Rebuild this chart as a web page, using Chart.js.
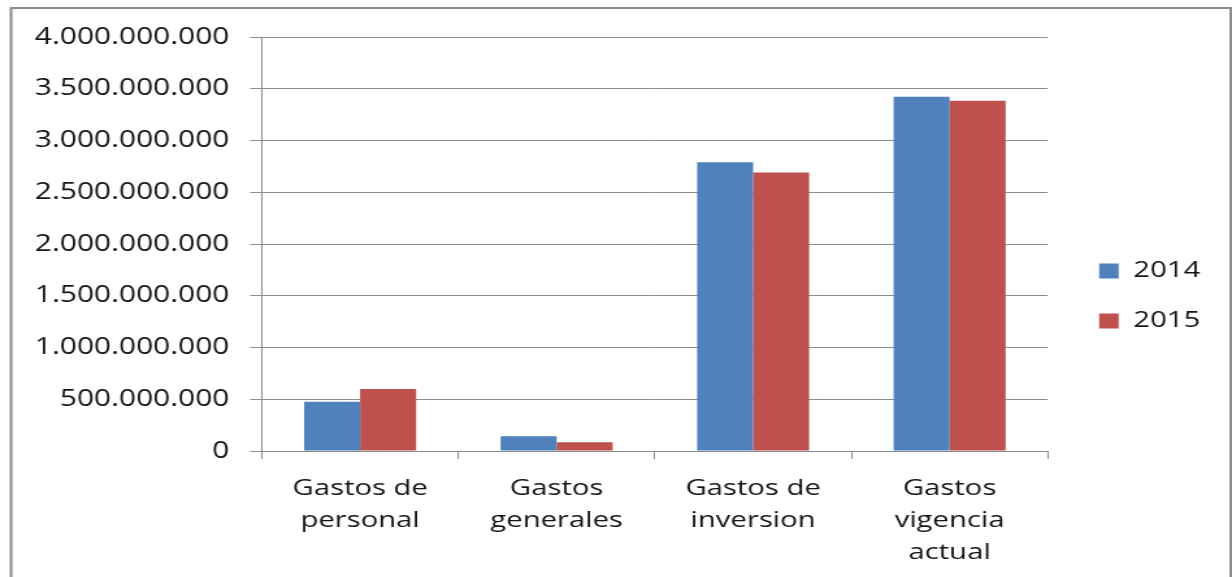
<!DOCTYPE html>
<html>
<head>
<meta charset="utf-8">
<script src="https://cdn.jsdelivr.net/npm/chart.js@4.4.0/dist/chart.umd.min.js"></script>
<style>
  html, body { margin: 0; padding: 0; background: #fff; overflow: hidden; }
  #caja { width: 948px; height: 577px; transform: scaleX(1.2996); transform-origin: 0 0; }
</style>
</head>
<body>
<div id="caja"><canvas id="grafica" width="948" height="577" style="width:948px;height:577px"></canvas></div>
<script>
const categorias = [
  ['Gastos de', 'personal'],
  ['Gastos', 'generales'],
  ['Gastos de', 'inversion'],
  ['Gastos', 'vigencia', 'actual']
];
const valores2014 = [475000000, 142000000, 2790000000, 3422000000];
const valores2015 = [600000000, 84000000, 2692000000, 3385000000];

// puntos como separador de miles (4.000.000.000)
function miles(v) {
  return String(Math.round(v)).replace(/\B(?=(\d{3})+(?!\d))/g, '.');
}

// marco gris alrededor de todo
const marco = {
  id: 'marco',
  beforeDraw(chart) {
    const ctx = chart.ctx;
    ctx.save();
    ctx.fillStyle = '#ffffff';
    ctx.fillRect(0, 0, chart.width, chart.height);
    ctx.strokeStyle = '#8c8c8c';
    ctx.lineWidth = 2;
    ctx.strokeRect(8.5, 8, 938.5, 700);
    ctx.restore();
  }
};

// correr la leyenda un poco a la derecha y arriba
const moverLeyenda = {
  id: 'moverLeyenda',
  afterLayout(chart) {
    const l = chart.legend;
    if (!l) return;
    l.left += 12; l.right += 12;
    l.top -= 6; l.bottom -= 6;
  }
};

const fuente = "'Open Sans', sans-serif";

new Chart(document.getElementById('grafica'), {
  type: 'bar',
  data: {
    labels: categorias,
    datasets: [{
      label: '2014',
      data: valores2014,
      backgroundColor: '#4f81bd',
      borderWidth: 0
    }, {
      label: '2015',
      data: valores2015,
      backgroundColor: '#c0504d',
      borderWidth: 0
    }]
  },
  options: {
    responsive: false,
    animation: false,
    devicePixelRatio: 1,
    barPercentage: 1,
    categoryPercentage: 0.57,
    layout: { padding: { left: 26.5, right: 26.5, top: 37, bottom: 10 } },
    plugins: {
      tooltip: { enabled: false },
      legend: {
        position: 'right',
        labels: {
          boxWidth: 15,
          boxHeight: 15,
          padding: 27.5,
          color: '#141414',
          font: { family: fuente, size: 22.5 }
        }
      }
    },
    scales: {
      x: {
        afterFit: (s) => { s.height = 116; },
        grid: { drawOnChartArea: false, drawTicks: true, tickLength: 8, color: '#8c8c8c' },
        border: { display: true, color: '#8c8c8c', width: 1 },
        ticks: {
          color: '#141414',
          padding: 14,
          maxRotation: 0,
          autoSkip: false,
          font: { family: fuente, size: 22.5, lineHeight: 1.42 }
        }
      },
      y: {
        min: 0,
        max: 4000000000,
        afterFit: (s) => { s.width = 175; },
        grid: { color: '#8c8c8c', tickLength: 9 },
        border: { display: true, color: '#8c8c8c', width: 1 },
        ticks: {
          stepSize: 500000000,
          color: '#141414',
          padding: 16,
          font: { family: fuente, size: 23 },
          callback: (v) => miles(v)
        }
      }
    }
  },
  plugins: [marco, moverLeyenda]
});
</script>
</body>
</html>
